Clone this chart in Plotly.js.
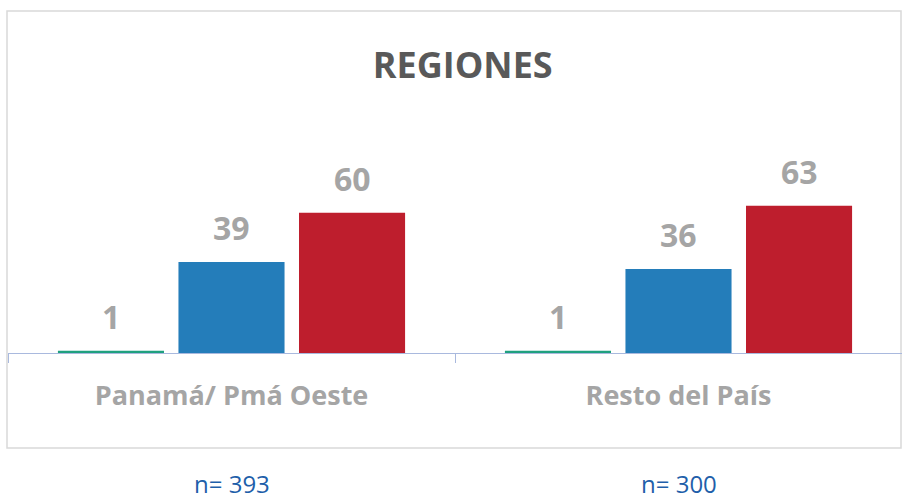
<!DOCTYPE html>
<html>
<head>
<meta charset="utf-8">
<script src="https://cdn.plot.ly/plotly-3.0.1.min.js"></script>
<style>html,body{margin:0;padding:0;background:#fff;}#chart{width:902px;height:500px;}</style>
</head>
<body>
<div id="chart"></div>
<script>
var categories = ["Panamá/ Pmá Oeste", "Resto del País"];
var sampleLabels = ["n= 393", "n= 300"];
var seriesA = [1, 1];
var seriesB = [39, 36];
var seriesC = [60, 63];
var seriesNames = ["Serie 1", "Serie 2", "Serie 3"];
var seriesColors = ["#1FA07F", "#247DBA", "#BE1E2D"];

var allSeries = [seriesA, seriesB, seriesC];
var FONT = "Open Sans, Lato, Arial, sans-serif";
var slotPx = 120.5;

var traces = allSeries.map(function (vals, i) {
  return {
    type: "bar",
    name: seriesNames[i],
    x: categories,
    y: vals,
    marker: { color: seriesColors[i], line: { width: 0 } },
    hoverinfo: "x+y"
  };
});

var annotations = [];
allSeries.forEach(function (vals, i) {
  vals.forEach(function (v, j) {
    annotations.push({
      x: categories[j], y: v, xref: "x", yref: "y",
      text: String(v), showarrow: false,
      xshift: (i - 1) * slotPx, yshift: 11, yanchor: "bottom",
      font: { family: FONT, size: 32, color: "#A5A5A5", weight: "bold" }
    });
  });
});
sampleLabels.forEach(function (t, j) {
  annotations.push({
    x: categories[j], y: -0.508, xref: "x", yref: "paper",
    text: t, showarrow: false, yanchor: "middle",
    font: { family: FONT, size: 24, color: "#1F5FAA" }
  });
});

var layout = {
  width: 902, height: 500,
  margin: { l: 8, r: 0, t: 96, b: 147 },
  paper_bgcolor: "#ffffff", plot_bgcolor: "#ffffff",
  showlegend: false,
  barmode: "group", bargap: 0.191, bargroupgap: 0.12,
  title: {
    text: "<b>REGIONES</b>",
    x: 0.513, xref: "container", xanchor: "center",
    y: 0.87, yref: "container", yanchor: "middle",
    font: { family: FONT, size: 36, color: "#595959" }
  },
  xaxis: {
    type: "category",
    showline: true, linecolor: "#A9B9DE", linewidth: 1.3,
    ticks: "outside", tickson: "boundaries", ticklen: 9, tickcolor: "#A9B9DE",
    showgrid: false, zeroline: false,
    tickfont: { family: FONT, size: 27, color: "#A5A5A5", weight: "bold" },
    ticklabelstandoff: 18
  },
  yaxis: {
    range: [0, 110], visible: false, showgrid: false, zeroline: false
  },
  shapes: [{
    type: "rect", xref: "paper", yref: "paper",
    x0: -1 / 894, x1: 893 / 894, y0: -0.3696, y1: 1.3307,
    line: { color: "#D9D9D9", width: 1.5 }, fillcolor: "rgba(0,0,0,0)", layer: "below"
  }],
  annotations: annotations
};

Plotly.newPlot("chart", traces, layout, { staticPlot: true, displayModeBar: false });
</script>
</body>
</html>
